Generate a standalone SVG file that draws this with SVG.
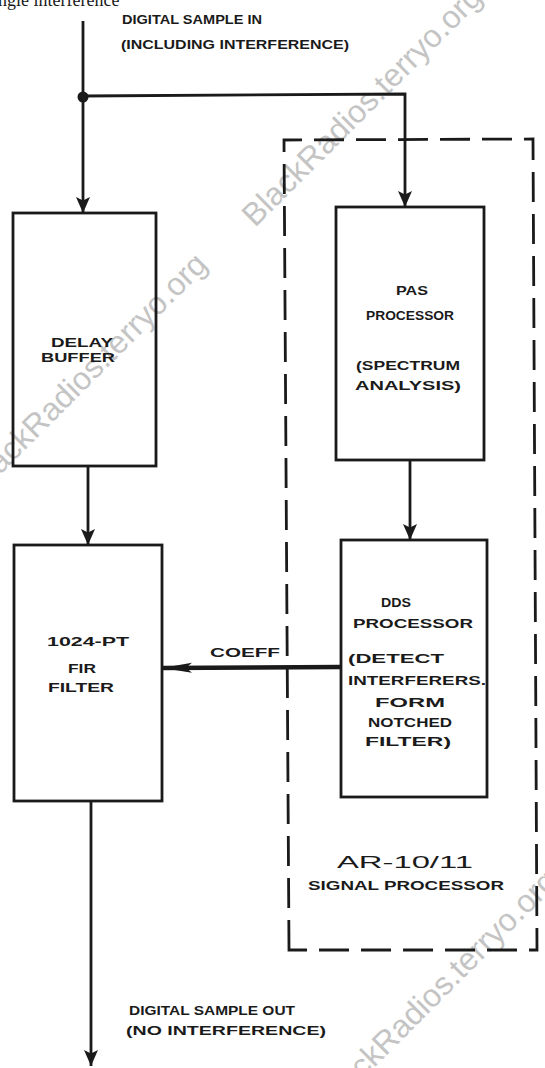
<svg xmlns="http://www.w3.org/2000/svg" width="545" height="1068" viewBox="0 0 545 1068">
<style>
.box{fill:none;stroke:#1a1a1a;stroke-width:2.8}
.ln{fill:none;stroke:#1a1a1a;stroke-width:2.8}
.t{font-family:"Liberation Sans",Arial,sans-serif;font-weight:bold;font-size:13px;fill:#1a1a1a}
.c{text-anchor:middle}
.thin{font-weight:normal;font-size:17px}
.wm{font-family:"Liberation Sans",Arial,sans-serif;font-size:32px;fill:#c4c4c4}
</style>
<defs>
<marker id="ah" markerUnits="userSpaceOnUse" markerWidth="16" markerHeight="16" refX="16" refY="8" orient="auto">
<path d="M0,1 L16,8 L0,15 L3.5,8 Z" fill="#1a1a1a"/>
</marker>
<marker id="ah2" markerUnits="userSpaceOnUse" markerWidth="30" markerHeight="12" refX="30" refY="6" orient="auto">
<path d="M0,1 L30,6 L0,11 L6,6 Z" fill="#1a1a1a"/>
</marker>
</defs>
<rect width="545" height="1068" fill="#ffffff"/>
<g id="watermarks">
<text class="wm" transform="translate(255,228) rotate(-45)">BlackRadios.terryo.org</text>
<text class="wm" transform="translate(-20,495) rotate(-45)">BlackRadios.terryo.org</text>
<text class="wm" transform="translate(330,1112) rotate(-45)">BlackRadios.terryo.org</text>
</g>
<text x="-14" y="6" font-family="Liberation Serif, serif" font-size="18" fill="#1a1a1a">single interference</text>
<g id="signal-processor-boundary">
<path d="M289,950 L284,140 L533,139 L537,950 Z" fill="none" stroke="#1a1a1a" stroke-width="2.8" stroke-dasharray="30 12"/>
<text class="t c thin" x="405" y="868" textLength="136" lengthAdjust="spacingAndGlyphs">AR-10/11</text>
<text class="t c" x="406" y="890" textLength="196" lengthAdjust="spacingAndGlyphs">SIGNAL PROCESSOR</text>
</g>
<g id="input-label">
<text class="t" x="122" y="24" textLength="140" lengthAdjust="spacingAndGlyphs">DIGITAL SAMPLE IN</text>
<text class="t" x="121" y="49" textLength="228" lengthAdjust="spacingAndGlyphs">(INCLUDING INTERFERENCE)</text>
</g>
<g id="delay-buffer">
<rect class="box" x="13" y="213" width="143" height="253"/>
<text class="t c" x="82" y="347" textLength="62" lengthAdjust="spacingAndGlyphs">DELAY</text>
<text class="t c" x="78" y="362" textLength="74" lengthAdjust="spacingAndGlyphs">BUFFER</text>
</g>
<g id="pas-processor">
<rect class="box" x="336" y="207" width="148" height="253"/>
<text class="t c" x="412" y="295" textLength="32" lengthAdjust="spacingAndGlyphs">PAS</text>
<text class="t c" x="410" y="320" textLength="88" lengthAdjust="spacingAndGlyphs">PROCESSOR</text>
<text class="t c" x="408" y="370" textLength="104" lengthAdjust="spacingAndGlyphs">(SPECTRUM</text>
<text class="t c" x="408" y="390" textLength="106" lengthAdjust="spacingAndGlyphs">ANALYSIS)</text>
</g>
<g id="fir-filter">
<rect class="box" x="14" y="545" width="148" height="256"/>
<text class="t c" x="88" y="646" textLength="82" lengthAdjust="spacingAndGlyphs">1024-PT</text>
<text class="t c" x="82" y="673" textLength="28" lengthAdjust="spacingAndGlyphs">FIR</text>
<text class="t c" x="81" y="692" textLength="66" lengthAdjust="spacingAndGlyphs">FILTER</text>
</g>
<g id="dds-processor">
<rect class="box" x="341" y="540" width="146" height="257"/>
<text class="t c" x="396" y="607" textLength="30" lengthAdjust="spacingAndGlyphs">DDS</text>
<text class="t c" x="413" y="628" textLength="120" lengthAdjust="spacingAndGlyphs">PROCESSOR</text>
<text class="t c" x="396" y="663" textLength="96" lengthAdjust="spacingAndGlyphs">(DETECT</text>
<text class="t c" x="417" y="685" textLength="138" lengthAdjust="spacingAndGlyphs">INTERFERERS.</text>
<text class="t c" x="410" y="707" textLength="70" lengthAdjust="spacingAndGlyphs">FORM</text>
<text class="t c" x="410" y="727" textLength="84" lengthAdjust="spacingAndGlyphs">NOTCHED</text>
<text class="t c" x="408" y="746" textLength="86" lengthAdjust="spacingAndGlyphs">FILTER)</text>
</g>
<g id="connectors">
<line class="ln" x1="83" y1="21" x2="83" y2="213" marker-end="url(#ah)"/>
<circle cx="83" cy="97" r="5.5" fill="#1a1a1a"/>
<polyline class="ln" points="83,96 405,94 405,207" marker-end="url(#ah)"/>
<line class="ln" x1="88" y1="466" x2="88" y2="545" marker-end="url(#ah)"/>
<line class="ln" x1="410" y1="460" x2="410" y2="540" marker-end="url(#ah)"/>
<line x1="341" y1="667" x2="162" y2="668" stroke="#1a1a1a" stroke-width="4.5" marker-end="url(#ah2)"/>
<text class="t" x="210" y="657" textLength="70" lengthAdjust="spacingAndGlyphs">COEFF</text>
<line class="ln" x1="91" y1="801" x2="91" y2="1066" marker-end="url(#ah)"/>
<text class="t" x="129" y="1015" textLength="166" lengthAdjust="spacingAndGlyphs">DIGITAL SAMPLE OUT</text>
<text class="t" x="126" y="1035" textLength="200" lengthAdjust="spacingAndGlyphs">(NO INTERFERENCE)</text>
</g>
</svg>
